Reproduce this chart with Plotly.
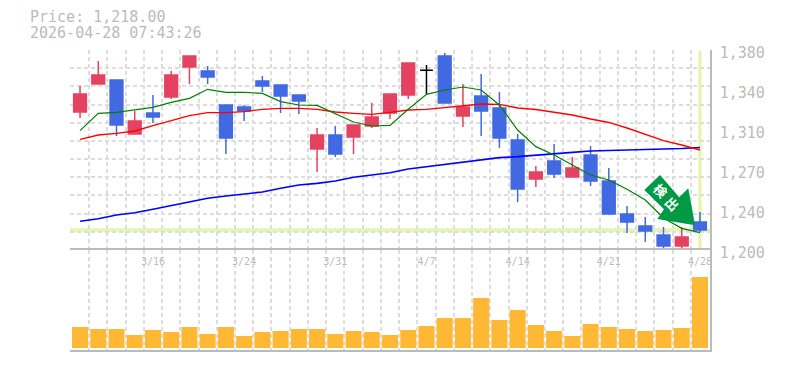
import plotly.graph_objects as go

dates = ["3/10","3/11","3/12","3/13","3/16","3/17","3/18","3/19","3/23","3/24","3/25","3/26","3/27","3/30","3/31",
         "4/1","4/2","4/3","4/6","4/7","4/8","4/9","4/10","4/13","4/14","4/15","4/16","4/17","4/20","4/21",
         "4/22","4/23","4/24","4/27","4/28"]
shown_dates = ["3/16","3/24","3/31","4/7","4/14","4/21","4/28"]

opens = [1324.2,1349.4,1353,1304.4,1323.3,1337.7,1364.7,1361.1,1330.5,1328.7,1352.1,1348.5,1339.5,1290.9,1303.5,
         1301.7,1311.6,1323.3,1339.5,None,1374.6,1320.6,1338.6,1327.8,1299,1263.9,1280.1,1265.7,1285.5,1262.1,
         1232.4,1221.6,1213.5,1203.6,1225.2]
highs = [1347.6,1370.1,1353,1325.1,1339.5,1361.1,1374.6,1365.6,1330.5,1330.5,1356.6,1348.5,1339.5,1309.8,1311.6,
         1312.5,1332.3,1340.4,1368.3,None,1377.3,1349.4,1358.4,1342.2,1304.4,1275.6,1295.4,1283.7,1293.6,1273.8,
         1239.6,1229.7,1220.7,1220.7,1234.2]
lows = [1318.8,1349.4,1302.6,1304.4,1314.3,1335.9,1349.4,1349.4,1286.4,1316.1,1342.2,1323.3,1322.4,1270.2,1283.7,
        1286.4,1309.8,1317.9,1335.9,None,1332.3,1310.7,1302.6,1291.8,1243.2,1256.7,1264.8,1265.7,1257.6,1231.5,
        1215.3,1207.2,1200.9,1200.9,1216.2]
closes = [1340.4,1357.5,1312.5,1316.1,1319.7,1357.5,1374.6,1355.7,1300.8,1325.1,1347.6,1338.6,1334.1,1303.5,1286.4,
          1312.5,1319.7,1340.4,1368.3,None,1332.3,1328.7,1325.1,1300.8,1254.9,1270.2,1268.4,1273.8,1262.1,1232.4,
          1225.2,1217.1,1203.6,1211.7,1218]

doji_date = ["4/7"]
doji_open = [1361.7]
doji_high = [1366.5]
doji_low = [1340.4]
doji_close = [1361.7]

ma_short = [1307.4,1323,1323.9,1326,1328.4,1332.9,1336.5,1344.6,1341.9,1341.9,1341,1333.5,1330.5,1330.2,1322.4,
            1315.2,1311.6,1312.2,1326.6,1340.1,1344,1346.7,1344,1330.5,1308,1293,1285.5,1276.5,1267.5,1263,
            1254.6,1245,1228.8,1219.5,1215.6]
ma_mid = [1299.6,1303.5,1305,1307.1,1311.9,1316.4,1320.9,1323.6,1323.6,1324.5,1326.6,1327.5,1327.5,1326.6,1324.2,
          1323,1322.1,1323.9,1326,1326.6,1328.4,1330.2,1331.4,1331.1,1327.8,1326.5,1324.2,1321.5,1317.9,1314.8,
          1309.8,1304.4,1298.4,1294.5,1290]
ma_long = [1225.8,1228.2,1231.5,1233.6,1236.6,1239.9,1243.5,1246.5,1248.6,1250.4,1252.2,1255.5,1258.5,1260,1262.1,
           1265.4,1267.5,1269.6,1272.9,1275,1277.1,1278.9,1281,1283.1,1284,1285.5,1287,1287.9,1289.1,1289.7,
           1290,1290.5,1290.9,1291.4,1292.3]

volumes = [21,19,19,13,18,16,21,14,21,12,16,17,19,19,14,17,16,13,
           18,22,30,30,50,28,38,23,17,12,24,21,19,17,18,20,71]

price_tick_values = [1380,1344,1308,1272,1236,1200]
price_tick_labels = ["1,380","1,340","1,310","1,270","1,240","1,200"]
price_grid_values = [1200,1216.36,1232.73,1249.09,1265.45,1281.82,1298.18,1314.55,1330.91,1347.27,1363.64,1380]

current_price = 1218
title_lines = ["Price: 1,218.00", "2026-04-28 07:43:26"]
badge_chars = ["検", "出"]

RED = "#E34360"
BLUE = "#4169E1"
GRAY = "#BBBBBB"
GRID = "#DDDDDD"
MONO = "DejaVu Sans Mono"
W, H = 785, 370
L, R, T, B = 70, 75, 50, 20
PW, PH = W - L - R, H - T - B


def px(x):
    return (x - L) / PW


def py(y):
    return (H - B - y) / PH


fig = go.Figure()
for vals, col, lw in [(ma_long, "#0000FF", 1.6), (ma_mid, "#FF0000", 1.4), (ma_short, "#008000", 1.2)]:
    fig.add_trace(go.Scatter(x=dates, y=vals, mode="lines", line=dict(color=col, width=lw), xaxis="x", yaxis="y"))

fig.add_trace(go.Candlestick(
    x=dates, open=opens, high=highs, low=lows, close=closes, xaxis="x", yaxis="y", whiskerwidth=0,
    increasing=dict(line=dict(color=RED, width=1.5), fillcolor=RED),
    decreasing=dict(line=dict(color=BLUE, width=1.5), fillcolor=BLUE),
))
fig.add_trace(go.Candlestick(
    x=doji_date, open=doji_open, high=doji_high, low=doji_low, close=doji_close, xaxis="x", yaxis="y", whiskerwidth=0,
    increasing=dict(line=dict(color="#000000", width=1.5), fillcolor="#000000"),
    decreasing=dict(line=dict(color="#000000", width=1.5), fillcolor="#000000"),
))
fig.add_trace(go.Bar(x=dates, y=volumes, marker=dict(color="#FFB833", line=dict(width=0)), xaxis="x2", yaxis="y2"))

x_common = dict(
    type="category", categoryorder="array", categoryarray=dates, range=[-0.55, 34.55],
    tickmode="array", tickvals=dates, tickson="boundaries", ticks="",
    showgrid=True, gridcolor=GRID, griddash="4px,3px", gridwidth=1.5,
    rangeslider=dict(visible=False), fixedrange=True, automargin=False,
)

arrow = [(660, 175), (644.3, 190), (664, 209.3), (657.3, 219), (695, 225.3), (688.3, 188.3), (679.3, 197.3)]
path = "M " + " L ".join(f"{px(a):.4f},{py(b):.4f}" for a, b in arrow) + " Z"

annotations = []
for line, y in zip(title_lines, [17, 32.5]):
    annotations.append(dict(text=line, xref="paper", yref="paper", x=px(27.5), y=py(y), xanchor="left", yanchor="middle",
                            showarrow=False, font=dict(family=MONO, size=15, color=GRAY)))
for ch, (cx, cy) in zip(badge_chars, [(660.7, 190.7), (672.3, 203.3)]):
    annotations.append(dict(text=f"<b>{ch}</b>", xref="paper", yref="paper", x=px(cx), y=py(cy), xanchor="center", yanchor="middle",
                            showarrow=False, textangle=45, font=dict(family="Noto Sans CJK JP", size=13, color="#FFFFFF")))

fig.update_layout(
    width=W, height=H, margin=dict(l=L, r=R, t=T, b=B, autoexpand=False), paper_bgcolor="white", plot_bgcolor="white",
    showlegend=False, bargap=0.12, boxgap=0, hovermode=False,
    xaxis=dict(x_common, domain=[0, 1], anchor="y", showticklabels=False, showline=False),
    xaxis2=dict(x_common, domain=[0, 1], anchor="y2", side="top", mirror=True, showticklabels=True,
                showline=True, linecolor=GRAY, linewidth=1.5,
                ticklabelposition="inside", ticklabeloverflow="allow", ticklabelstandoff=7,
                ticktext=[d if d in shown_dates else "" for d in dates], tickangle=0,
                tickfont=dict(family=MONO, size=10, color=GRAY)),
    yaxis=dict(domain=[1 / 3, 1], range=[1200, 1380], anchor="x", side="right", showgrid=False, zeroline=False,
               tickmode="array", tickvals=price_tick_values, ticktext=price_tick_labels,
               ticks="outside", ticklen=5, tickcolor="rgba(0,0,0,0)", ticklabelshift=3,
               minor=dict(tickmode="array", tickvals=price_grid_values, showgrid=True, gridcolor=GRID,
                          griddash="4px,3px", gridwidth=1.5, ticks=""),
               showline=True, linecolor=GRAY, linewidth=1.5,
               tickfont=dict(family=MONO, size=15, color=GRAY), fixedrange=True),
    yaxis2=dict(domain=[0, 1 / 3], range=[-2, 98], anchor="x2", side="right", showgrid=False, zeroline=False,
                showticklabels=False, ticks="", showline=True, linecolor=GRAY, linewidth=1.5, fixedrange=True),
    shapes=[
        dict(type="line", xref="x domain", yref="y", x0=0, x1=1, y0=current_price, y1=current_price,
             line=dict(color="#E5F5AB", width=3.3), layer="below"),
        dict(type="line", xref="x", yref="y", x0=dates[-1], x1=dates[-1], y0=1201.8, y1=1379,
             line=dict(color="#E5F5AB", width=3.3), layer="below"),
        dict(type="path", xref="paper", yref="paper", path=path, fillcolor="#009944", line=dict(width=0), layer="above"),
    ],
    annotations=annotations,
)

fig.write_html("out.html", post_script="document.body.style.margin='0';", config=dict(displayModeBar=False))
